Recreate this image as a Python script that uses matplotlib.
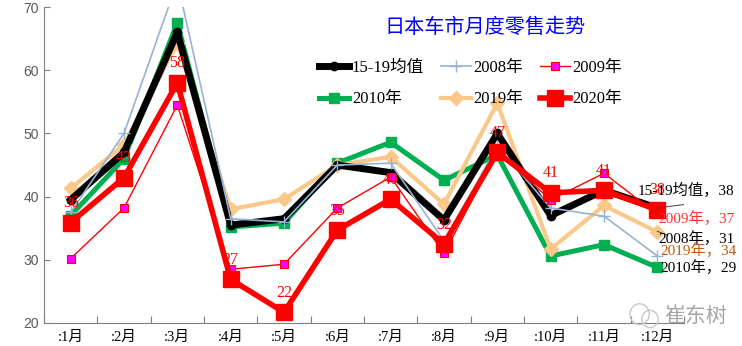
import matplotlib.pyplot as plt
from matplotlib.patches import Ellipse
import numpy as np

months = [':1月', ':2月', ':3月', ':4月', ':5月', ':6月',
          ':7月', ':8月', ':9月', ':10月', ':11月', ':12月']

avg_15_19 = [39.5, 47, 66, 35.5, 36.5, 45, 43.8, 36.3, 50, 37, 41, 38.2]
y2008 = [37.5, 50, 74, 36.5, 36, 45, 45.3, 33, 48, 38.2, 36.9, 30.6]
y2009 = [30.2, 38.2, 54.5, 28.5, 29.3, 38.2, 43.1, 31, 47, 39.5, 43.7, 37.2]
y2010 = [37, 46, 67.5, 35.2, 35.8, 45.3, 48.6, 42.6, 46.6, 30.6, 32.4, 28.8]
y2019 = [41.3, 48.2, 64.3, 38, 39.6, 45, 46.3, 38.8, 54.8, 31.7, 38.6, 34.4]
y2020 = [35.9, 43, 58, 26.9, 21.7, 34.7, 39.6, 32.5, 47, 40.6, 41, 37.9]

SERIF = ['Liberation Serif', 'Noto Sans CJK SC']
CJK = ['Noto Sans CJK SC', 'DejaVu Sans']

fig = plt.figure(figsize=(7.42, 3.46), dpi=100)
ax = fig.add_axes([0.0593, 0.0665, 0.8625, 0.913])
x = np.arange(len(months))

l_avg, = ax.plot(x, avg_15_19, color='black', lw=5, marker='o', ms=6,
                 zorder=3, label='15-19均值')
l10, = ax.plot(x, y2010, color='#00B050', lw=3.6, marker='s', ms=7,
               zorder=2, label='2010年')
l19, = ax.plot(x, y2019, color='#FAC98A', lw=3, marker='D', ms=7.5,
               zorder=2.5, label='2019年')
l08, = ax.plot(x, y2008, color='#95B3D7', lw=1.2, marker='+', ms=8,
               mew=1, zorder=3.5, label='2008年')
l09, = ax.plot(x, y2009, color='red', lw=1, marker='s', ms=5.5,
               mfc='#FF00FF', mec='red', mew=0.8, zorder=4, label='2009年')
l20, = ax.plot(x, y2020, color='red', lw=4, marker='s', ms=12,
               zorder=5, label='2020年')

# value labels for 2020
for xi, v in zip(x, y2020):
    ax.annotate(f'{v:.0f}', (xi, v), xytext=(0, 14), textcoords='offset points',
                ha='center', va='center', color='red', fontsize=11.5,
                family=SERIF, zorder=6)

# end-of-line labels at December
ends = [
    ('15-19均值', avg_15_19[-1], 10.63, 41.0, 'black'),
    ('2009年', y2009[-1], 11.02, 36.6, '#FF3333'),
    ('2008年', y2008[-1], 11.02, 33.3, 'black'),
    ('2019年', y2019[-1], 11.06, 31.4, '#C55A11'),
    ('2010年', y2010[-1], 11.06, 28.8, 'black'),
]
for name, v, tx, ty, c in ends:
    ax.text(tx, ty, f'{name}，{v:.0f}', color=c, fontsize=11, family=SERIF,
            va='center', ha='left', zorder=7, clip_on=False)
ax.plot([11, 11.55], [avg_15_19[-1], 38.8], color='#404040', lw=0.7, zorder=6)
ax.plot([11, 11.2], [y2019[-1] + 0.1, 33.9], color='#404040', lw=0.7, zorder=6)

ax.set_xlim(-0.5, 11.5)
ax.set_ylim(20, 70)
ax.set_yticks(range(20, 71, 10))
ax.set_xticks(np.arange(-0.5, 11.6, 1))
ax.set_xticklabels([])
ax.set_xticks(x, minor=True)
ax.set_xticklabels(months, minor=True, family=SERIF, fontsize=10.5)
ax.tick_params(axis='x', which='major', direction='in', length=5, color='#7F7F7F')
ax.tick_params(axis='x', which='minor', length=0, pad=6)
ax.tick_params(axis='y', direction='in', length=4, color='#7F7F7F',
               labelcolor='#595959', labelsize=10)
for lab in ax.get_yticklabels():
    lab.set_family('Liberation Sans')
for s in ['top', 'right']:
    ax.spines[s].set_visible(False)
for s in ['left', 'bottom']:
    ax.spines[s].set_color('#7F7F7F')

fig.text(0.654, 0.92, '日本车市月度零售走势', color='#0000FF', fontsize=14.5,
         family=CJK, ha='center', va='center')

handles = [l_avg, l10, l08, l19, l09, l20]
ax.legend(handles=handles, ncol=3, frameon=False, loc='upper left',
          bbox_to_anchor=(0.42, 0.855), prop={'family': SERIF, 'size': 12},
          handlelength=1.8, handletextpad=0.15, columnspacing=1.0,
          labelspacing=0.95, borderaxespad=0)

# watermark
fig.patches.append(Ellipse((0.862, 0.092), 0.026, 0.06, transform=fig.transFigure,
                           fill=False, ec='#C8C8C8', lw=1))
fig.patches.append(Ellipse((0.876, 0.078), 0.022, 0.05, transform=fig.transFigure,
                           fill=False, ec='#C8C8C8', lw=1))
fig.text(0.895, 0.087, '崔东树', color='#A6A6A6', fontsize=15, family=CJK,
         ha='left', va='center')

fig.savefig('out.png', dpi=100)
